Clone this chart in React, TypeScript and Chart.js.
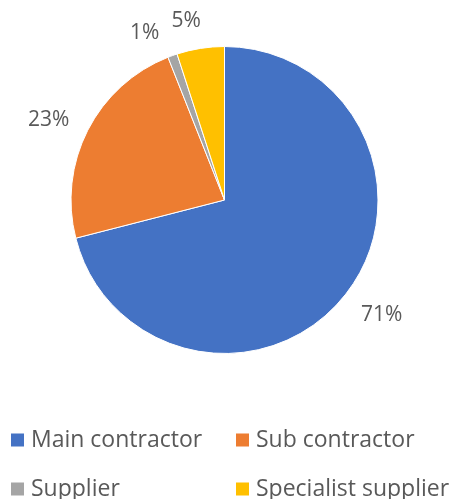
import React, { useEffect, useRef } from "react";
import { Chart, registerables } from "chart.js";

Chart.register(...registerables);

const categories = ["Main contractor", "Sub contractor", "Supplier", "Specialist supplier"];
const shares = [71, 23, 1, 5];
const percentLabels = ["71%", "23%", "1%", "5%"];
const colors = ["#4472C4", "#ED7D31", "#A5A5A5", "#FFC000"];

const FONT = "'Open Sans', 'Noto Sans', sans-serif";
const TEXT_COLOR = "#595959";

const pieLabels = {
  id: "pieLabels",
  afterDatasetsDraw(chart: any, _args: any, opts: any) {
    const ctx = chart.ctx;
    const meta = chart.getDatasetMeta(0);
    ctx.save();
    ctx.font = `${opts.size}px ${FONT}`;
    ctx.fillStyle = TEXT_COLOR;
    ctx.textAlign = "center";
    ctx.textBaseline = "alphabetic";
    meta.data.forEach((arc: any, i: number) => {
      const p = arc.getProps(["x", "y", "startAngle", "endAngle", "outerRadius"], true);
      const mid = (p.startAngle + p.endAngle) / 2 + ((opts.nudge[i] || 0) * Math.PI) / 180;
      const text = percentLabels[i];
      const w = ctx.measureText(text).width;
      const h = opts.size * 1.05;
      const c = Math.cos(mid);
      const s = Math.sin(mid);
      const ext = (Math.abs(c) * w) / 2 + (Math.abs(s) * h) / 2;
      const d = p.outerRadius + opts.gap + ext;
      ctx.fillText(text, p.x + c * d, p.y + s * d + opts.size * 0.357);
    });
    ctx.restore();
  },
};

const gridLegend = {
  id: "gridLegend",
  afterDraw(chart: any, _args: any, opts: any) {
    const ctx = chart.ctx;
    const labels = chart.data.labels as string[];
    const bg = chart.data.datasets[0].backgroundColor as string[];
    ctx.save();
    ctx.font = `${opts.size}px ${FONT}`;
    ctx.textAlign = "left";
    ctx.textBaseline = "middle";
    labels.forEach((lab, i) => {
      const col = i % 2;
      const row = Math.floor(i / 2);
      const bx = opts.colX[col];
      const cy = opts.rowY[row];
      ctx.fillStyle = bg[i];
      ctx.fillRect(bx, cy - opts.box / 2, opts.box, opts.box);
      ctx.fillStyle = TEXT_COLOR;
      ctx.fillText(lab, bx + opts.box + opts.textGap, cy);
    });
    ctx.restore();
  },
};

export default function App() {
  const ref = useRef<HTMLCanvasElement | null>(null);

  useEffect(() => {
    document.body.style.margin = "0";
    if (!ref.current) return;
    const chart = new Chart(ref.current, {
      type: "pie",
      data: {
        labels: categories,
        datasets: [
          {
            data: shares,
            backgroundColor: colors,
            borderColor: "#ffffff",
            borderWidth: 1,
            hoverOffset: 0,
          },
        ],
      },
      options: {
        responsive: false,
        animation: false,
        layout: { padding: { left: 70, right: 72, top: 46, bottom: 145 } },
        plugins: {
          legend: { display: false },
          tooltip: { enabled: false },
          pieLabels: { size: 21, gap: 17, nudge: [-2, -2, -5.5, -3] },
          gridLegend: { size: 23, box: 13, textGap: 7, colX: [11, 236], rowY: [440, 489] },
        } as any,
      },
      plugins: [pieLabels, gridLegend],
    });
    return () => chart.destroy();
  }, []);

  return (
    <div style={{ width: 451, height: 499, background: "#ffffff" }}>
      <canvas ref={ref} width={451} height={499} />
    </div>
  );
}
